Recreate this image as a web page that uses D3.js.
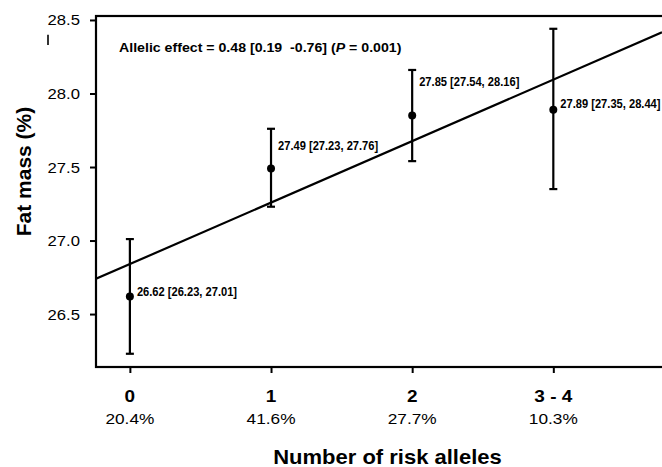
<!DOCTYPE html>
<html>
<head>
<meta charset="utf-8">
<script src="https://cdn.jsdelivr.net/npm/d3@7/dist/d3.min.js"></script>
<style>
  html, body { margin: 0; padding: 0; background: #fff; }
  svg { display: block; }
  text { font-family: "Liberation Sans", Arial, Helvetica, sans-serif; fill: #000; }
</style>
</head>
<body>
<svg id="chart" width="662" height="467"></svg>
<script>
// ---- data ----
const categories = ["0", "1", "2", "3 - 4"];
const frequencies = ["20.4%", "41.6%", "27.7%", "10.3%"];
const means = [26.62, 27.49, 27.85, 27.89];
const lowerCI = [26.23, 27.23, 27.54, 27.35];
const upperCI = [27.01, 27.76, 28.16, 28.44];
const yTicks = [26.5, 27.0, 27.5, 28.0, 28.5];
const fitLine = [26.84, 0.418]; // intercept, slope per allele group
const annotationParts = [
  { t: "Allelic effect = 0.48 [0.19  -0.76] (", italic: false },
  { t: "P", italic: true },
  { t: " = 0.001)", italic: false }
];
// label layout offsets (pixels, relative to the mean point)
const labelDy = [-4.7, -22.5, -34.2, -6.4];

(function () {
// ---- layout ----
const svg = d3.select("#chart");
const pLeft = 96, pTop = 16, pBottom = 367, pRight = 680;
const x = d3.scaleLinear().domain([-0.24, 3.77]).range([96, 662]);
const y = d3.scaleLinear().domain([26.14, 28.527]).range([pBottom, pTop]);
const idx = d3.range(categories.length);

// frame
svg.append("rect")
  .attr("x", pLeft).attr("y", pTop)
  .attr("width", pRight - pLeft).attr("height", pBottom - pTop)
  .attr("fill", "none").attr("stroke", "#000").attr("stroke-width", 2.2);

// y axis ticks
const yAxis = d3.axisLeft(y).tickValues(yTicks).tickSize(6).tickFormat("");
const gy = svg.append("g").attr("transform", `translate(${pLeft},0)`).call(yAxis);
gy.select(".domain").remove();
gy.selectAll(".tick line").attr("stroke", "#000").attr("stroke-width", 2);
svg.append("g").selectAll("text").data(yTicks).join("text")
  .attr("transform", d => `translate(80,${y(d) + 5.5}) scale(1.15,1)`)
  .attr("text-anchor", "end")
  .style("font-size", "14.5px")
  .text(d => d3.format(".1f")(d));

// small stray mark near top of y axis
svg.append("line")
  .attr("x1", 48).attr("x2", 48)
  .attr("y1", y(28.40)).attr("y2", y(28.33))
  .attr("stroke", "#000").attr("stroke-width", 1.6);

// x axis ticks
const xAxis = d3.axisBottom(x).tickValues(idx).tickSize(6).tickFormat("");
const gx = svg.append("g").attr("transform", `translate(0,${pBottom})`).call(xAxis);
gx.select(".domain").remove();
gx.selectAll(".tick line").attr("stroke", "#000").attr("stroke-width", 2);
svg.append("g").selectAll("text").data(idx).join("text")
  .attr("transform", i => `translate(${x(i)},401.5) scale(1.15,1)`)
  .attr("text-anchor", "middle")
  .style("font-size", "16.5px").style("font-weight", "bold")
  .text(i => categories[i]);
svg.append("g").selectAll("text").data(idx).join("text")
  .attr("transform", i => `translate(${x(i)},424) scale(1.15,1)`)
  .attr("text-anchor", "middle")
  .style("font-size", "15px")
  .text(i => frequencies[i]);

// axis titles
svg.append("text")
  .attr("transform", "translate(387.5,464) scale(1.1,1)")
  .attr("text-anchor", "middle")
  .style("font-size", "20px").style("font-weight", "bold")
  .text("Number of risk alleles");
svg.append("text")
  .attr("transform", "translate(31,171.5) rotate(-90)")
  .attr("text-anchor", "middle")
  .style("font-size", "21px").style("font-weight", "bold")
  .text("Fat mass (%)");

// clip for plot content
svg.append("clipPath").attr("id", "plotclip")
  .append("rect").attr("x", pLeft).attr("y", pTop).attr("width", pRight - pLeft).attr("height", pBottom - pTop);
const plot = svg.append("g").attr("clip-path", "url(#plotclip)");

// regression line
const xd = x.domain();
plot.append("line")
  .attr("x1", x(xd[0])).attr("y1", y(fitLine[0] + fitLine[1] * xd[0]))
  .attr("x2", x(xd[1])).attr("y2", y(fitLine[0] + fitLine[1] * xd[1]))
  .attr("stroke", "#000").attr("stroke-width", 2.2);

// error bars
const eb = svg.append("g").selectAll("g").data(idx).join("g");
eb.append("line")
  .attr("x1", i => x(i)).attr("x2", i => x(i))
  .attr("y1", i => y(lowerCI[i])).attr("y2", i => y(upperCI[i]))
  .attr("stroke", "#000").attr("stroke-width", 2.2);
eb.append("line")
  .attr("x1", i => x(i) - 4).attr("x2", i => x(i) + 4)
  .attr("y1", i => y(lowerCI[i])).attr("y2", i => y(lowerCI[i]))
  .attr("stroke", "#000").attr("stroke-width", 2.2);
eb.append("line")
  .attr("x1", i => x(i) - 4).attr("x2", i => x(i) + 4)
  .attr("y1", i => y(upperCI[i])).attr("y2", i => y(upperCI[i]))
  .attr("stroke", "#000").attr("stroke-width", 2.2);
eb.append("circle")
  .attr("cx", i => x(i)).attr("cy", i => y(means[i]))
  .attr("r", 4).attr("fill", "#000");

// value labels
const f2 = d3.format(".2f");
svg.append("g").selectAll("text").data(idx).join("text")
  .attr("transform", i => `translate(${x(i) + 7},${y(means[i]) + labelDy[i] + 4.5}) scale(0.89,1)`)
  .style("font-size", "12.5px").style("font-weight", "bold")
  .text(i => `${f2(means[i])} [${f2(lowerCI[i])}, ${f2(upperCI[i])}]`);

// annotation
const ann = svg.append("text")
  .attr("transform", "translate(119,52) scale(1.09,1)")
  .style("font-size", "13px").style("font-weight", "bold")
  .style("white-space", "pre");
ann.selectAll("tspan").data(annotationParts).join("tspan")
  .style("font-style", d => d.italic ? "italic" : "normal")
  .text(d => d.t);
})();
</script>
</body>
</html>
